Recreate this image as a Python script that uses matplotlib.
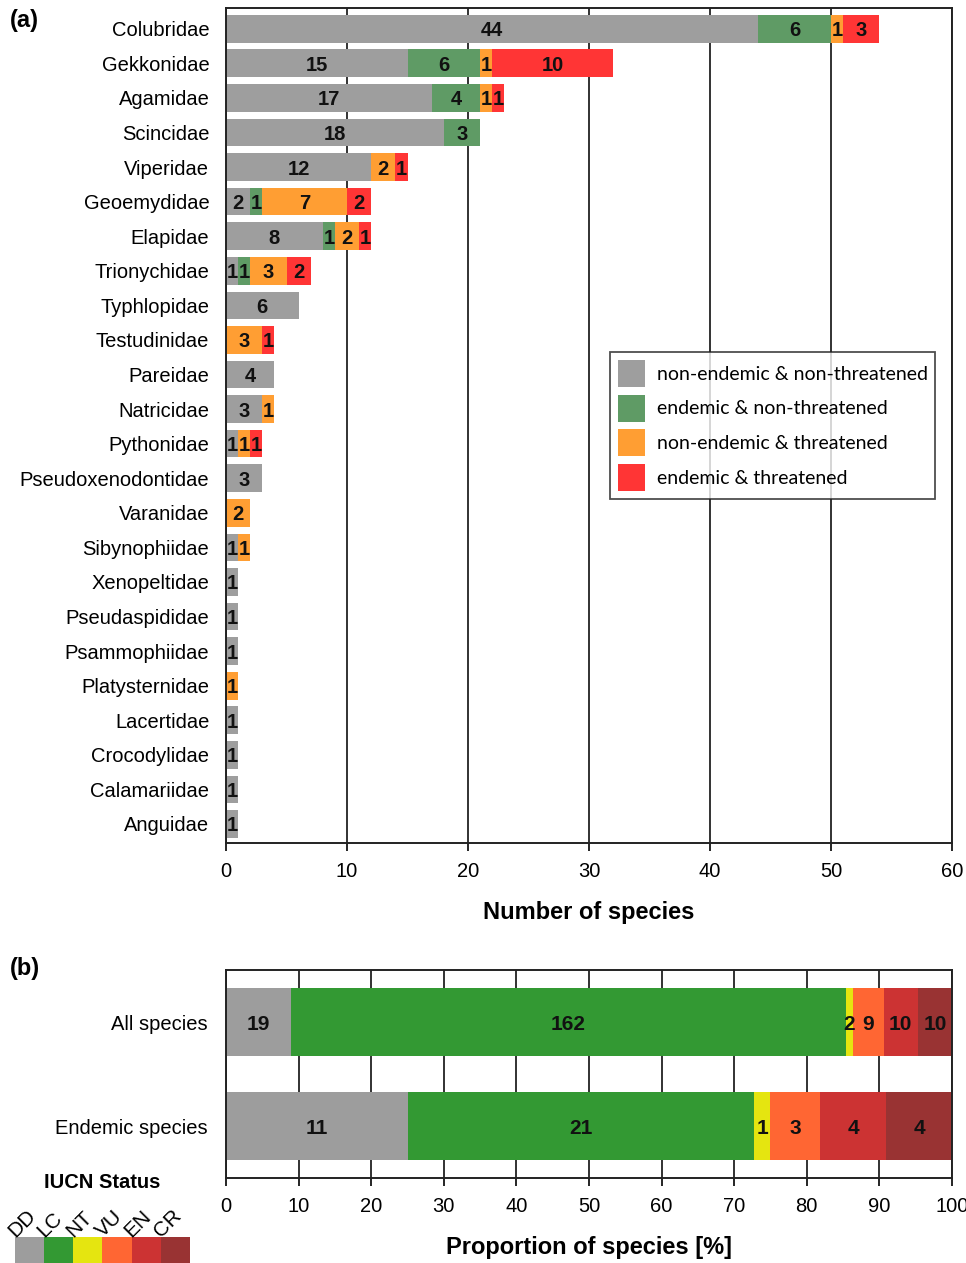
import matplotlib
matplotlib.use("Agg")
import matplotlib.pyplot as plt
import numpy as np

families = [
    "Colubridae", "Gekkonidae", "Agamidae", "Scincidae", "Viperidae",
    "Geoemydidae", "Elapidae", "Trionychidae", "Typhlopidae", "Testudinidae",
    "Pareidae", "Natricidae", "Pythonidae", "Pseudoxenodontidae", "Varanidae",
    "Sibynophiidae", "Xenopeltidae", "Pseudaspididae", "Psammophiidae",
    "Platysternidae", "Lacertidae", "Crocodylidae", "Calamariidae", "Anguidae",
]
nonend_nonthr = [44, 15, 17, 18, 12, 2, 8, 1, 6, 0, 4, 3, 1, 3, 0, 1, 1, 1, 1, 0, 1, 1, 1, 1]
end_nonthr = [6, 6, 4, 3, 0, 1, 1, 1, 0, 0, 0, 0, 0, 0, 0, 0, 0, 0, 0, 0, 0, 0, 0, 0]
nonend_thr = [1, 1, 1, 0, 2, 7, 2, 3, 0, 3, 0, 1, 1, 0, 2, 1, 0, 0, 0, 1, 0, 0, 0, 0]
end_thr = [3, 10, 1, 0, 1, 2, 1, 2, 0, 1, 0, 0, 1, 0, 0, 0, 0, 0, 0, 0, 0, 0, 0, 0]
series_a = ["non-endemic & non-threatened", "endemic & non-threatened",
            "non-endemic & threatened", "endemic & threatened"]
colors_a = ["#9e9e9e", "#5f9b65", "#ff9e33", "#ff3535"]

groups_b = ["All species", "Endemic species"]
iucn = ["DD", "LC", "NT", "VU", "EN", "CR"]
all_species = [19, 162, 2, 9, 10, 10]
endemic_species = [11, 21, 1, 3, 4, 4]
colors_b = ["#9d9d9d", "#339933", "#e5e510", "#ff6633", "#cc3333", "#993333"]

plt.rcParams["font.family"] = ["Liberation Sans", "DejaVu Sans"]

W, H = 966, 1263
fig = plt.figure(figsize=(W / 100, H / 100), dpi=100)


def box(l, t, r, b):
    return [l / W, 1 - b / H, (r - l) / W, (b - t) / H]


# ---- panel (a)
ax = fig.add_axes(box(226, 8, 952, 843))
y = np.arange(len(families))
left = np.zeros(len(families))
for vals, col, name in zip([nonend_nonthr, end_nonthr, nonend_thr, end_thr], colors_a, series_a):
    vals = np.array(vals, dtype=float)
    ax.barh(y, vals, left=left, height=0.8, color=col, label=name, zorder=2)
    for yi, (l0, v) in enumerate(zip(left, vals)):
        if v > 0:
            ax.text(l0 + v / 2, yi, f"{int(v)}", ha="center", va="center_baseline",
                    fontsize=14.5, fontweight="bold", color="#111111", zorder=3)
    left += vals

ax.set_xlim(0, 60)
ax.set_ylim(len(families) - 0.45, -0.6)
ax.set_yticks(y)
ax.set_yticklabels(families, fontsize=14.5)
ax.tick_params(axis="y", length=0, pad=12)
ax.set_xticks(range(0, 61, 10))
ax.tick_params(axis="x", labelsize=14.5, length=6, width=1.2, direction="out", pad=8)
ax.xaxis.grid(True, color="#222222", linewidth=1.3)
ax.set_axisbelow(True)
for s in ax.spines.values():
    s.set_linewidth(1.4)
    s.set_color("#222222")
ax.set_xlabel("Number of species", fontsize=17, fontweight="bold", labelpad=14)

leg = ax.legend(loc="upper left", bbox_to_anchor=(0.529, 0.588), frameon=True,
                fancybox=False, edgecolor="#222222",
                prop={"family": ["Lato", "DejaVu Sans"], "size": 14},
                handlelength=1.4, handleheight=1.76, handletextpad=0.6,
                labelspacing=0.4, borderpad=0.4, borderaxespad=0)
leg.get_frame().set_linewidth(1.3)

fig.text(10 / W, 1 - 20 / H, "(a)", fontsize=17, fontweight="bold", va="center")

# ---- panel (b)
bx = fig.add_axes(box(226, 970, 952, 1178))
yb = np.arange(len(groups_b))
counts = np.array([all_species, endemic_species], dtype=float)
props = counts / counts.sum(axis=1, keepdims=True) * 100
leftb = np.zeros(len(groups_b))
for k, col in enumerate(colors_b):
    bx.barh(yb, props[:, k], left=leftb, height=0.65, color=col, zorder=2)
    for j in range(len(groups_b)):
        bx.text(leftb[j] + props[j, k] / 2, yb[j], f"{int(counts[j, k])}",
                ha="center", va="center_baseline", fontsize=15, fontweight="bold",
                color="#111111", zorder=3)
    leftb += props[:, k]

bx.set_xlim(0, 100)
bx.set_ylim(1.5, -0.5)
bx.set_yticks(yb)
bx.set_yticklabels(groups_b, fontsize=14.5)
bx.tick_params(axis="y", length=0, pad=13)
bx.set_xticks(range(0, 101, 10))
bx.tick_params(axis="x", labelsize=14.5, length=6, width=1.2, direction="out", pad=8)
bx.xaxis.grid(True, color="#222222", linewidth=1.3)
bx.set_axisbelow(True)
for s in bx.spines.values():
    s.set_linewidth(1.4)
    s.set_color("#222222")
bx.set_xlabel("Proportion of species [%]", fontsize=17, fontweight="bold", labelpad=14)

fig.text(10 / W, 1 - 968 / H, "(b)", fontsize=17, fontweight="bold", va="center")

# IUCN colour key
fig.text(102 / W, 1 - 1183 / H, "IUCN Status", fontsize=14.5, fontweight="bold",
         ha="center", va="center")
kx = fig.add_axes(box(15, 1237, 190, 1263))
kx.bar(range(len(iucn)), [1] * len(iucn), width=1, color=colors_b)
kx.set_xlim(-0.5, len(iucn) - 0.5)
kx.set_ylim(0, 1)
kx.axis("off")
for i, lab in enumerate(iucn):
    kx.text(i - 0.5, 0.95, lab, rotation=45, ha="left", va="baseline",
            rotation_mode="anchor", fontsize=15, clip_on=False)

fig.savefig("out.png", dpi=100)
